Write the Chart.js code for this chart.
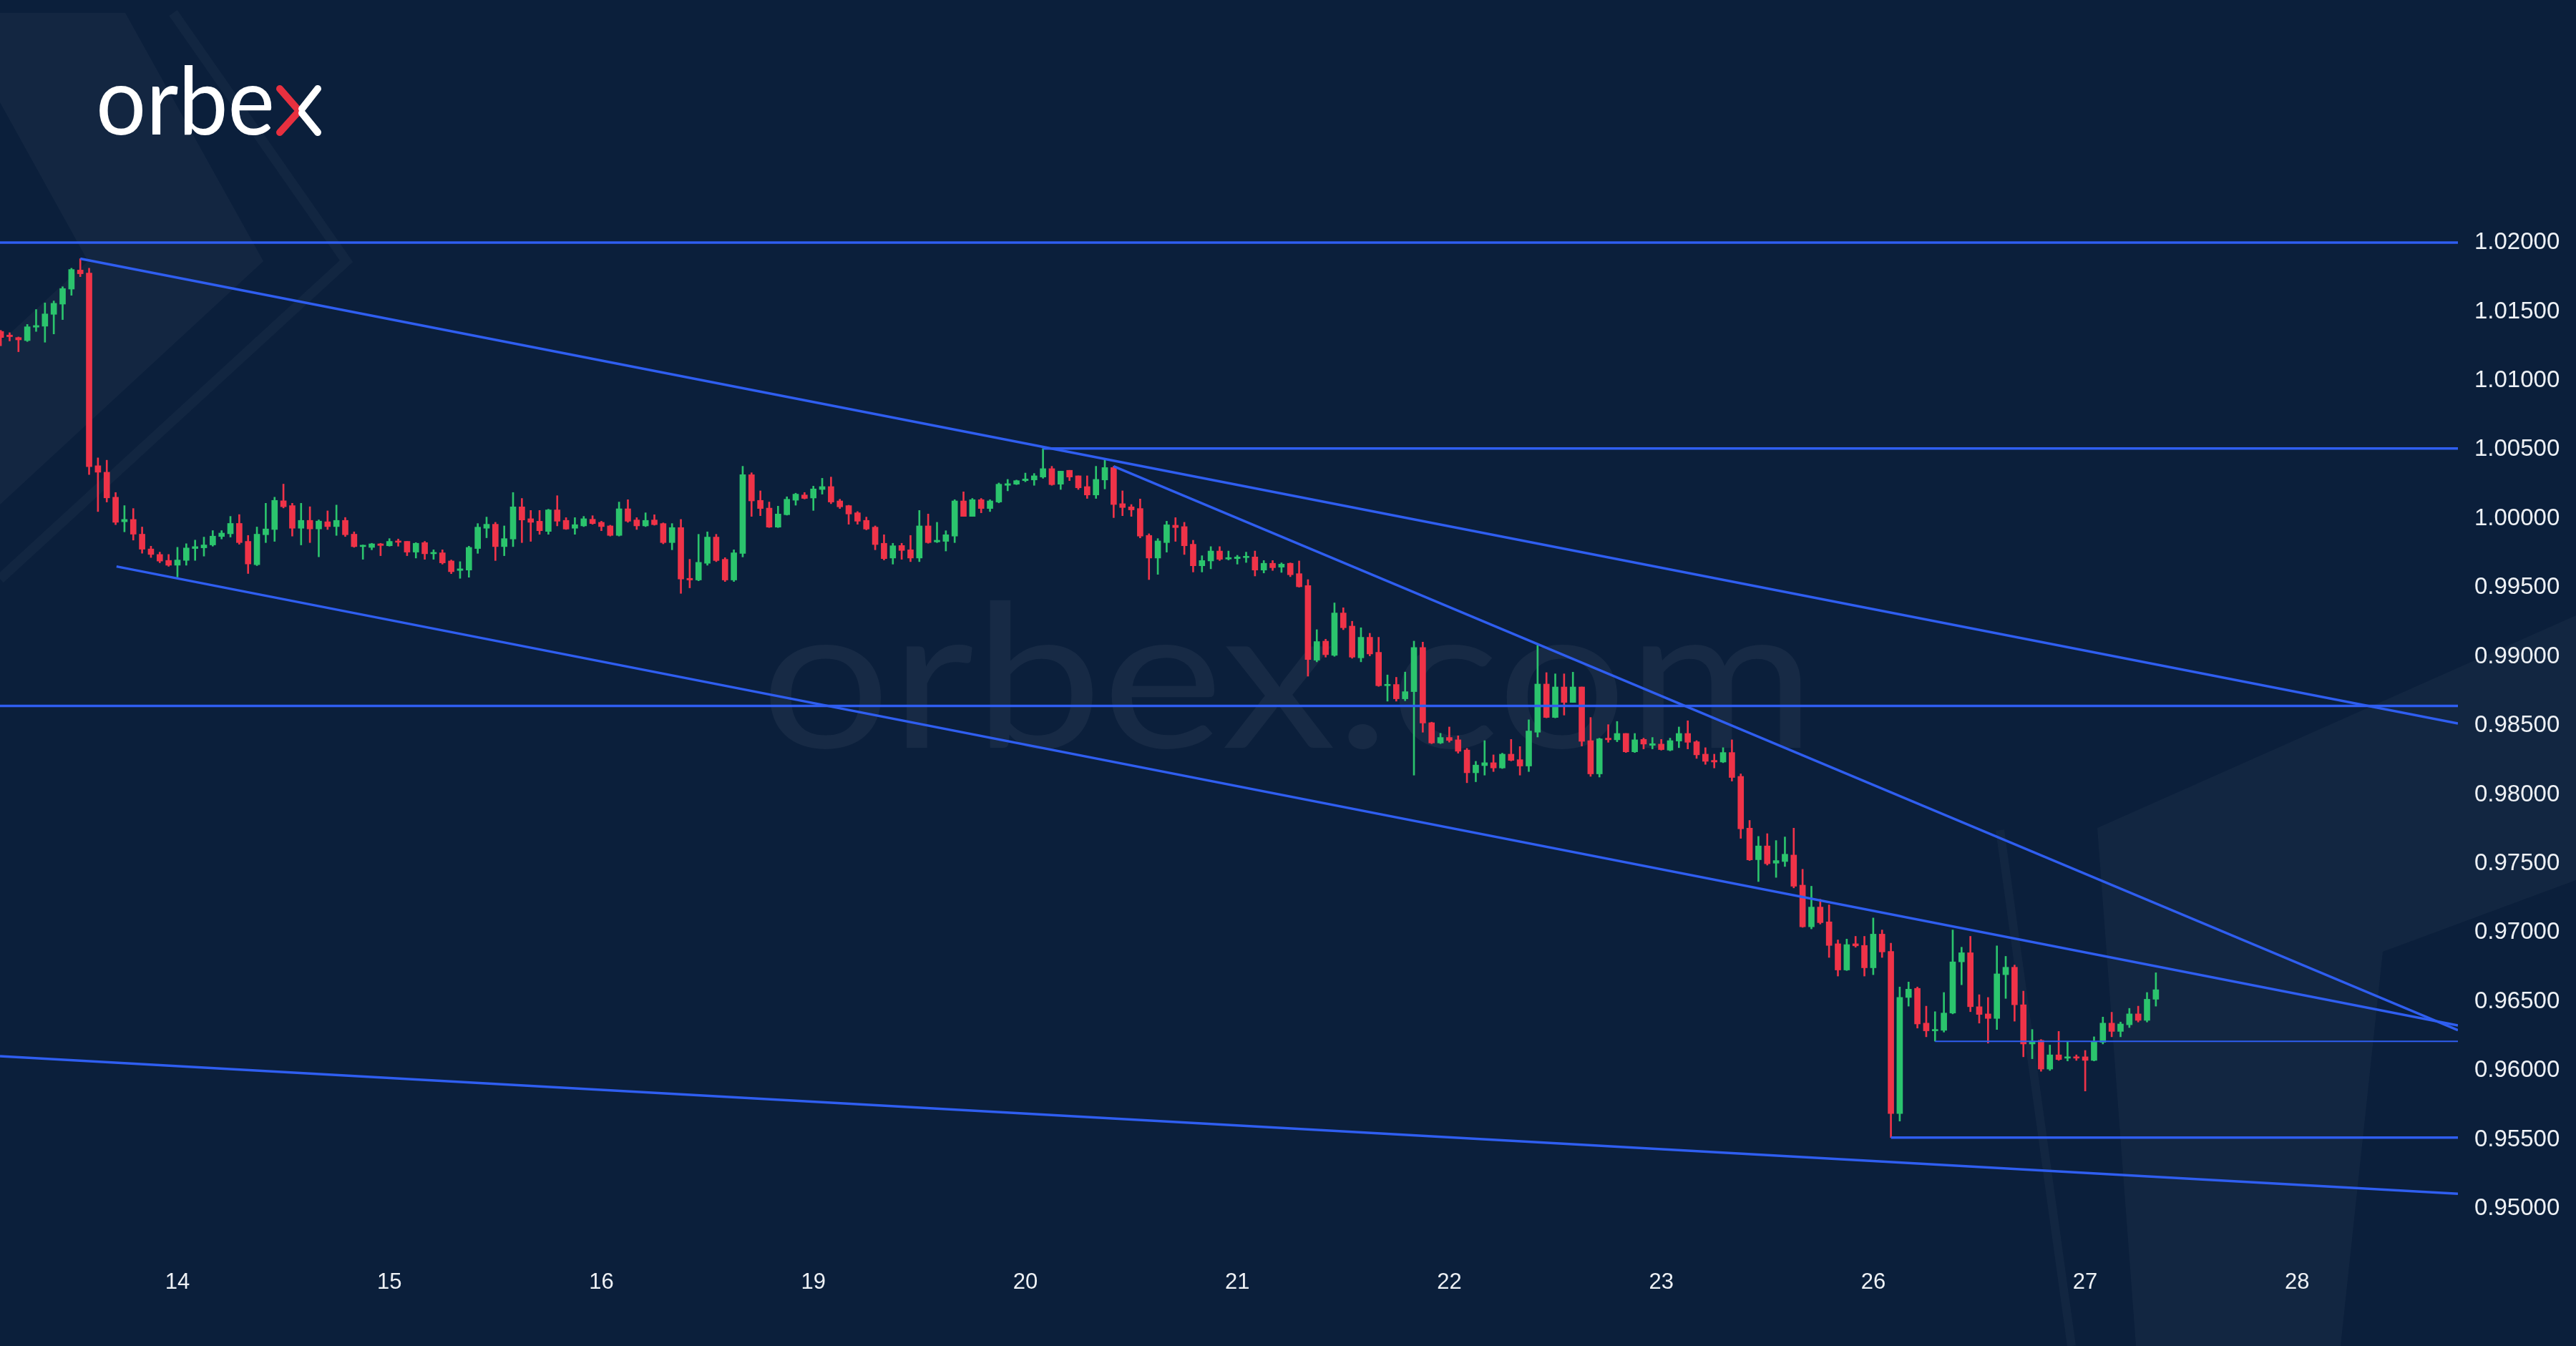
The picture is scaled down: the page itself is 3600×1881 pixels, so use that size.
<!DOCTYPE html>
<html>
<head>
<meta charset="utf-8">
<script src="https://cdn.jsdelivr.net/npm/chart.js@4.4.0/dist/chart.umd.min.js"></script>
<style>
  html, body { margin: 0; padding: 0; background: #0b1f3b; }
  #wrap { width: 3600px; height: 1881px; position: relative; }
</style>
</head>
<body>
<div id="wrap"><canvas id="chart"></canvas></div>
<script>
'use strict';

// day labels under the x axis (hourly candles, 24 per trading day)
const dayLabels = ['14', '15', '16', '19', '20', '21', '22', '23', '26', '27', '28'];
const firstDayIndex = 20; //      candle index where the "14" label sits
const priceTicks = [0.95, 0.955, 0.96, 0.965, 0.97, 0.975, 0.98, 0.985, 0.99, 0.995, 1.0, 1.005, 1.01, 1.015, 1.02];

// visible window of the chart (candle index / price)
const xMin = -0.09;
const xMax = 278.2;
const yMin = 0.946837;
const yMax = 1.037578;

// hourly candles
const opens = [
  1.01356,1.01330,1.01312,1.01290,1.01387,1.01394,1.01480,1.01554,1.01663,1.01801,
  1.01779,1.00383,1.00336,1.00155,0.99977,0.99994,0.99887,0.99780,0.99740,0.99697,
  0.99662,0.99697,0.99783,0.99788,0.99809,0.99870,0.99890,0.99965,0.99835,0.99666,
  0.99883,0.99921,1.00129,1.00094,0.99930,0.99987,0.99925,0.99977,0.99942,0.99987,
  0.99887,0.99797,0.99791,0.99817,0.99803,0.99835,0.99835,0.99757,0.99826,0.99745,
  0.99752,0.99693,0.99624,0.99627,0.99783,0.99930,0.99959,0.99797,0.99852,1.00085,
  0.99999,0.99981,0.99907,1.00063,0.99987,0.99930,0.99947,0.99995,0.99973,0.99947,
  0.99878,1.00071,0.99990,0.99947,0.99990,0.99964,0.99826,0.99935,0.99567,0.99555,
  0.99676,0.99866,0.99705,0.99555,0.99748,1.00318,1.00132,1.00076,0.99938,1.00028,
  1.00133,1.00171,1.00149,1.00211,1.00232,1.00128,1.00094,1.00042,0.99987,0.99938,
  0.99821,0.99714,0.99805,0.99774,0.99714,0.99947,0.99831,0.99835,0.99873,1.00128,
  1.00016,1.00137,1.00073,1.00120,1.00241,1.00249,1.00275,1.00280,1.00301,1.00362,
  1.00249,1.00350,1.00310,1.00232,1.00171,1.00280,1.00370,1.00108,1.00085,1.00073,
  0.99878,0.99714,0.99826,0.99952,0.99942,0.99814,0.99658,0.99693,0.99765,0.99707,
  0.99710,0.99717,0.99722,0.99627,0.99676,0.99648,0.99676,0.99601,0.99515,0.98974,
  0.99112,0.99009,0.99316,0.99221,0.98991,0.99140,0.99031,0.98789,0.98798,0.98694,
  0.98746,0.99066,0.98521,0.98374,0.98414,0.98397,0.98323,0.98158,0.98210,0.98231,
  0.98193,0.98293,0.98253,0.98207,0.98452,0.98801,0.98559,0.98780,0.98668,0.98780,
  0.98391,0.98150,0.98409,0.98397,0.98443,0.98310,0.98400,0.98357,0.98366,0.98322,
  0.98388,0.98443,0.98383,0.98293,0.98248,0.98236,0.98305,0.98132,0.97757,0.97528,
  0.97628,0.97503,0.97515,0.97562,0.97344,0.97042,0.97185,0.97078,0.96919,0.96729,
  0.96919,0.96907,0.96745,0.96989,0.96864,0.95689,0.96530,0.96596,0.96344,0.96288,
  0.96292,0.96417,0.96788,0.96854,0.96463,0.96411,0.96378,0.96695,0.96749,0.96477,
  0.96193,0.96219,0.96011,0.96114,0.96090,0.96100,0.96100,0.96074,0.96205,0.96344,
  0.96284,0.96332,0.96411,0.96364,0.96517
];
const highs = [
  1.01364,1.01347,1.01316,1.01407,1.01515,1.01563,1.01577,1.01680,1.01814,1.01883,
  1.01814,1.00440,1.00423,1.00189,1.00094,1.00073,0.99939,0.99800,0.99757,0.99740,
  0.99792,0.99818,0.99844,0.99866,0.99913,0.99913,1.00016,1.00029,0.99878,0.99939,
  1.00111,1.00155,1.00250,1.00111,1.00111,1.00086,0.99991,1.00056,1.00098,1.00008,
  0.99904,0.99809,0.99821,0.99821,0.99855,0.99852,0.99835,0.99826,0.99835,0.99774,
  0.99774,0.99700,0.99688,0.99800,0.99964,1.00011,0.99973,0.99947,1.00189,1.00146,
  1.00059,1.00059,1.00068,1.00166,1.00007,1.00007,1.00016,1.00021,0.99981,0.99952,
  1.00120,1.00137,1.00007,1.00042,1.00028,0.99969,0.99964,0.99994,0.99705,0.99886,
  0.99904,0.99886,0.99717,0.99774,1.00379,1.00332,1.00201,1.00120,1.00090,1.00158,
  1.00184,1.00189,1.00235,1.00292,1.00301,1.00140,1.00097,1.00051,1.00011,0.99947,
  0.99883,0.99821,0.99821,0.99878,1.00059,1.00033,0.99973,0.99912,1.00137,1.00194,
  1.00146,1.00146,1.00137,1.00258,1.00284,1.00279,1.00330,1.00327,1.00508,1.00379,
  1.00344,1.00350,1.00310,1.00310,1.00379,1.00422,1.00379,1.00201,1.00102,1.00142,
  0.99890,0.99855,0.99981,1.00007,0.99973,0.99843,0.99731,0.99797,0.99797,0.99765,
  0.99734,0.99757,0.99765,0.99696,0.99696,0.99679,0.99679,0.99693,0.99558,0.99195,
  0.99126,0.99389,0.99354,0.99256,0.99209,0.99169,0.99140,0.98867,0.98850,0.98888,
  0.99112,0.99105,0.98525,0.98444,0.98490,0.98426,0.98335,0.98241,0.98391,0.98288,
  0.98300,0.98400,0.98348,0.98542,0.99083,0.98884,0.98875,0.98875,0.98887,0.98780,
  0.98559,0.98409,0.98507,0.98530,0.98443,0.98443,0.98409,0.98414,0.98400,0.98409,
  0.98490,0.98535,0.98391,0.98340,0.98293,0.98340,0.98397,0.98150,0.97813,0.97697,
  0.97717,0.97667,0.97693,0.97757,0.97459,0.97336,0.97241,0.97201,0.96947,0.96953,
  0.96973,0.96973,0.97106,0.97019,0.96923,0.96606,0.96642,0.96606,0.96467,0.96427,
  0.96566,0.97019,0.96894,0.96973,0.96550,0.96530,0.96904,0.96828,0.96765,0.96576,
  0.96298,0.96225,0.96185,0.96284,0.96209,0.96114,0.96146,0.96245,0.96388,0.96423,
  0.96352,0.96451,0.96467,0.96566,0.96709
];
const lows = [
  1.01252,1.01287,1.01209,1.01283,1.01356,1.01278,1.01338,1.01442,1.01618,1.01753,
  1.00319,1.00051,1.00120,0.99956,0.99904,0.99844,0.99749,0.99718,0.99680,0.99654,
  0.99576,0.99662,0.99697,0.99728,0.99800,0.99852,0.99866,0.99814,0.99602,0.99659,
  0.99826,0.99835,1.00077,0.99873,0.99809,0.99826,0.99723,0.99921,0.99878,0.99870,
  0.99792,0.99705,0.99774,0.99731,0.99800,0.99800,0.99731,0.99714,0.99705,0.99705,
  0.99670,0.99601,0.99567,0.99575,0.99748,0.99861,0.99696,0.99731,0.99797,0.99826,
  0.99835,0.99886,0.99886,0.99947,0.99921,0.99886,0.99942,0.99959,0.99912,0.99873,
  0.99873,0.99973,0.99921,0.99942,0.99952,0.99817,0.99774,0.99458,0.99498,0.99549,
  0.99662,0.99688,0.99544,0.99544,0.99722,1.00016,1.00021,0.99935,0.99935,1.00025,
  1.00097,1.00142,1.00059,1.00177,1.00108,1.00073,0.99959,0.99959,0.99918,0.99774,
  0.99700,0.99670,0.99705,0.99688,0.99688,0.99821,0.99826,0.99765,0.99826,1.00016,
  1.00016,1.00042,1.00051,1.00114,1.00201,1.00246,1.00267,1.00241,1.00292,1.00241,
  1.00211,1.00275,1.00211,1.00146,1.00146,1.00215,1.00007,1.00021,1.00016,0.99860,
  0.99558,0.99596,0.99757,0.99835,0.99740,0.99613,0.99613,0.99636,0.99696,0.99700,
  0.99670,0.99682,0.99584,0.99606,0.99624,0.99610,0.99579,0.99503,0.98858,0.98962,
  0.98996,0.99002,0.99195,0.98988,0.98962,0.99005,0.98784,0.98677,0.98677,0.98680,
  0.98141,0.98452,0.98369,0.98369,0.98380,0.98300,0.98086,0.98093,0.98141,0.98167,
  0.98189,0.98244,0.98141,0.98167,0.98417,0.98556,0.98556,0.98576,0.98668,0.98352,
  0.98132,0.98127,0.98379,0.98383,0.98305,0.98305,0.98331,0.98331,0.98322,0.98317,
  0.98340,0.98331,0.98262,0.98219,0.98193,0.98231,0.98098,0.97683,0.97522,0.97370,
  0.97489,0.97400,0.97479,0.97324,0.97038,0.97027,0.97062,0.96820,0.96685,0.96725,
  0.96894,0.96685,0.96695,0.96820,0.95515,0.95634,0.96467,0.96308,0.96245,0.96213,
  0.96279,0.96411,0.96622,0.96427,0.96344,0.96199,0.96298,0.96523,0.96358,0.96100,
  0.96086,0.95995,0.96001,0.96074,0.96070,0.96074,0.95852,0.96070,0.96193,0.96245,
  0.96245,0.96312,0.96352,0.96352,0.96467
];
const closes = [
  1.01312,1.01318,1.01295,1.01390,1.01399,1.01483,1.01560,1.01667,1.01805,1.01774,
  1.00376,1.00336,1.00150,0.99973,0.99994,0.99887,0.99778,0.99740,0.99692,0.99662,
  0.99700,0.99787,0.99797,0.99809,0.99873,0.99895,0.99965,0.99826,0.99671,0.99887,
  0.99925,1.00132,1.00086,0.99930,0.99987,0.99925,0.99982,0.99942,0.99987,0.99883,
  0.99797,0.99807,0.99817,0.99805,0.99835,0.99828,0.99757,0.99821,0.99745,0.99752,
  0.99679,0.99615,0.99636,0.99791,0.99938,0.99959,0.99797,0.99855,1.00085,0.99990,
  0.99973,0.99912,1.00063,0.99981,0.99924,0.99956,0.99999,0.99964,0.99942,0.99878,
  1.00071,0.99981,0.99947,0.99987,0.99956,0.99826,0.99935,0.99562,0.99555,0.99683,
  0.99866,0.99696,0.99555,0.99752,1.00318,1.00128,1.00073,0.99938,1.00033,1.00140,
  1.00177,1.00146,1.00215,1.00232,1.00120,1.00085,1.00033,0.99981,0.99924,0.99812,
  0.99710,0.99803,0.99769,0.99714,0.99947,0.99826,0.99843,0.99883,1.00128,1.00016,
  1.00137,1.00073,1.00128,1.00249,1.00253,1.00275,1.00287,1.00310,1.00362,1.00246,
  1.00344,1.00301,1.00223,1.00171,1.00284,1.00370,1.00102,1.00080,1.00063,0.99873,
  0.99714,0.99838,0.99955,0.99935,0.99803,0.99658,0.99696,0.99765,0.99705,0.99714,
  0.99722,0.99727,0.99627,0.99676,0.99644,0.99670,0.99593,0.99506,0.98979,0.99109,
  0.99014,0.99316,0.99209,0.98996,0.99140,0.99019,0.98789,0.98798,0.98694,0.98746,
  0.99066,0.98518,0.98374,0.98414,0.98392,0.98314,0.98158,0.98214,0.98231,0.98193,
  0.98293,0.98248,0.98207,0.98461,0.98801,0.98559,0.98780,0.98668,0.98780,0.98386,
  0.98150,0.98404,0.98397,0.98443,0.98310,0.98397,0.98366,0.98369,0.98326,0.98391,
  0.98443,0.98379,0.98288,0.98241,0.98236,0.98305,0.98124,0.97752,0.97527,0.97628,
  0.97499,0.97522,0.97568,0.97336,0.97042,0.97185,0.97072,0.96907,0.96729,0.96913,
  0.96904,0.96745,0.96989,0.96860,0.95689,0.96530,0.96590,0.96338,0.96288,0.96298,
  0.96417,0.96788,0.96854,0.96463,0.96407,0.96378,0.96701,0.96749,0.96477,0.96193,
  0.96213,0.96011,0.96114,0.96080,0.96100,0.96090,0.96074,0.96209,0.96344,0.96284,
  0.96338,0.96411,0.96364,0.96517,0.96586
];

// drawn lines: [fromIndex, fromPrice, toIndex, toPrice]
const trendLines = [
  [xMin, 1.02000, xMax, 1.02000],
  [118, 1.00508, xMax, 1.00508],
  [xMin, 0.98642, xMax, 0.98642],
  [214, 0.95515, xMax, 0.95515],
  [9, 1.01883, xMax, 0.98515],
  [126, 1.00379, xMax, 0.96293],
  [13.1, 0.99653, xMax, 0.96327],
  [xMin, 0.96105, xMax, 0.95107]
];
const thinLines = [
  [219, 0.96212, xMax, 0.96212]
];

const upColor = '#2bc46d';
const downColor = '#ef3348';
const lineBlue = '#2f5ef0';
const labelColor = '#eef1f5';

const idx = opens.map((_, i) => i);
const candleColors = idx.map(i => closes[i] >= opens[i] ? upColor : downColor);

// background: navy fill, light chevrons, watermark
const backdrop = {
  id: 'backdrop',
  beforeDraw(chart) {
    const ctx = chart.ctx;
    ctx.save();
    ctx.fillStyle = '#0b1f3b';
    ctx.fillRect(0, 0, chart.width, chart.height);

    ctx.fillStyle = 'rgba(255,255,255,0.035)';
    ctx.beginPath();
    ctx.moveTo(0, 18); ctx.lineTo(175, 18); ctx.lineTo(368, 365); ctx.lineTo(0, 705);
    ctx.lineTo(0, 479); ctx.lineTo(123, 365); ctx.lineTo(0, 143);
    ctx.closePath();
    ctx.fill();

    ctx.strokeStyle = 'rgba(255,255,255,0.03)';
    ctx.lineWidth = 14;
    ctx.beginPath();
    ctx.moveTo(242, 18); ctx.lineTo(484, 365); ctx.lineTo(0, 809);
    ctx.stroke();

    ctx.fillStyle = 'rgba(255,255,255,0.03)';
    ctx.beginPath();
    ctx.moveTo(2931, 1157); ctx.lineTo(3600, 860); ctx.lineTo(3600, 1230);
    ctx.lineTo(3330, 1330); ctx.lineTo(3271, 1881);
    ctx.lineTo(2985, 1881);
    ctx.closePath();
    ctx.fill();

    ctx.strokeStyle = 'rgba(255,255,255,0.03)';
    ctx.lineWidth = 12;
    ctx.beginPath();
    ctx.moveTo(2795, 1160); ctx.lineTo(2895, 1881);
    ctx.stroke();

    // watermark
    ctx.fillStyle = 'rgba(255,255,255,0.05)';
    ctx.font = '280px Lato, "Noto Sans", sans-serif';
    const w = ctx.measureText('orbex.com').width;
    ctx.save();
    ctx.translate(1063, 1045);
    ctx.scale(1474 / w, 1);
    ctx.textBaseline = 'alphabetic';
    ctx.fillText('orbex.com', 0, 0);
    ctx.restore();
    ctx.restore();
  },
  afterDraw(chart) {
    // logo top left
    const ctx = chart.ctx;
    ctx.save();
    ctx.fillStyle = '#ffffff';
    ctx.font = '132px Lato, "Noto Sans", sans-serif';
    ctx.textBaseline = 'alphabetic';
    const w = ctx.measureText('orbe').width;
    ctx.save();
    ctx.translate(134, 188);
    ctx.scale(250 / w, 1);
    ctx.fillText('orbe', 0, 0);
    ctx.restore();
    ctx.lineWidth = 10;
    ctx.lineCap = 'round';
    ctx.lineJoin = 'round';
    ctx.strokeStyle = '#e8303f';
    ctx.beginPath();
    ctx.moveTo(391, 124); ctx.lineTo(418, 155); ctx.lineTo(391, 185);
    ctx.stroke();
    ctx.strokeStyle = '#ffffff';
    ctx.beginPath();
    ctx.moveTo(444, 124); ctx.lineTo(422, 152);
    ctx.moveTo(422, 158); ctx.lineTo(444, 185);
    ctx.stroke();
    ctx.restore();
  }
};

const lineSets = trendLines.map(l => ({
  type: 'line',
  data: [{x: l[0], y: l[1]}, {x: l[2], y: l[3]}],
  borderColor: lineBlue,
  borderWidth: 3.5,
  pointRadius: 0,
  order: 0
})).concat(thinLines.map(l => ({
  type: 'line',
  data: [{x: l[0], y: l[1]}, {x: l[2], y: l[3]}],
  borderColor: lineBlue,
  borderWidth: 2,
  pointRadius: 0,
  order: 0
})));

new Chart(document.getElementById('chart'), {
  type: 'bar',
  data: {
    datasets: lineSets.concat([
      {
        // candle bodies
        data: idx.map(i => ({x: i, y: [opens[i], closes[i]]})),
        backgroundColor: candleColors,
        barThickness: 8,
        minBarLength: 2,
        grouped: false,
        order: 1
      },
      {
        // wicks
        data: idx.map(i => ({x: i, y: [lows[i], highs[i]]})),
        backgroundColor: candleColors,
        barThickness: 2,
        grouped: false,
        order: 2
      }
    ])
  },
  options: {
    responsive: true,
    maintainAspectRatio: false,
    animation: false,
    events: [],
    layout: {padding: 0},
    plugins: {legend: {display: false}, tooltip: {enabled: false}},
    scales: {
      x: {
        type: 'linear',
        offset: false,
        min: xMin,
        max: xMax,
        grid: {display: false, drawTicks: false},
        border: {display: false},
        afterBuildTicks: s => { s.ticks = dayLabels.map((_, k) => ({value: firstDayIndex + 24 * k})); },
        ticks: {
          color: labelColor,
          font: {family: '"Liberation Sans", Arial, sans-serif', size: 31},
          padding: 24,
          autoSkip: false,
          maxRotation: 0,
          callback: (v, i) => dayLabels[i]
        },
        afterFit: s => { s.height = 131; s.paddingLeft = 0; s.paddingRight = 0; }
      },
      y: {
        type: 'linear',
        position: 'right',
        min: yMin,
        max: yMax,
        grid: {display: false, drawTicks: false},
        border: {display: false},
        afterBuildTicks: s => { s.ticks = priceTicks.map(v => ({value: v})); },
        ticks: {
          color: labelColor,
          font: {family: '"Liberation Sans", Arial, sans-serif', size: 33},
          padding: 23,
          callback: v => v.toFixed(5)
        },
        afterFit: s => { s.width = 165; s.paddingTop = 0; s.paddingBottom = 0; }
      }
    }
  },
  plugins: [backdrop]
});
</script>
</body>
</html>
